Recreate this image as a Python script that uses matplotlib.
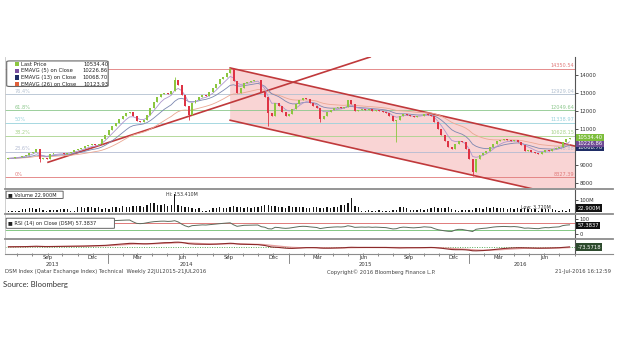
import matplotlib
matplotlib.use("Agg")
import matplotlib.pyplot as plt
import matplotlib.dates as mdates
import matplotlib.transforms as mtrans
from matplotlib.lines import Line2D
from matplotlib.patches import Polygon, FancyBboxPatch, Rectangle
import numpy as np
import pandas as pd

plt.rcParams['font.family'] = 'DejaVu Sans'

# weekly closes of the DSM index, mid Jun 2013 - 21 Jul 2016
closes = [9380, 9420, 9450, 9480, 9520, 9580, 9650, 9760, 9900, 9330,
          9420, 9350, 9620, 9700, 9650, 9680, 9620, 9700, 9760, 9820,
          9880, 9950, 10050, 10100, 10150, 10100, 10200, 10450, 10700, 10950,
          11150, 11350, 11550, 11750, 11900, 11950, 11700, 11450, 11400, 11500,
          11800, 12150, 12500, 12750, 12950, 13000, 12950, 13100, 13700, 13450,
          12900, 12300, 11800, 12450, 12600, 12800, 12900, 12850, 13050, 13250,
          13500, 13750, 13900, 14100, 14300, 13650, 13000, 13300, 13560, 13620,
          13650, 13700, 13730, 13070, 12800, 11900, 11700, 12450, 12300, 11950,
          11750, 11850, 12100, 12400, 12600, 12700, 12650, 12450, 12300, 12150,
          11550, 11750, 11950, 12050, 12150, 12200, 12150, 12250, 12600, 12400,
          12000, 12050, 12100, 12050, 12100, 12000, 12050, 12000, 11950, 11900,
          11700, 11450, 11500, 11750, 11850, 11800, 11700, 11650, 11700, 11750,
          11850, 11800, 11750, 11400, 11000, 10700, 10350, 10000, 9900, 10200,
          10350, 10300, 9900, 9350, 8650, 9350, 9550, 9700, 9800, 10000,
          10200, 10330, 10400, 10450, 10400, 10350, 10400, 10300, 10100, 9800,
          9850, 9750, 9650, 9600, 9750, 9850, 9800, 9900, 9950, 10000,
          10300, 10450, 10534.40]
# weekly volume, millions
volumes = [6, 5, 7, 6, 18, 20, 28, 30, 25, 32,
           10, 8, 12, 9, 10, 24, 26, 22, 8, 7,
           35, 38, 30, 40, 36, 32, 38, 22, 28, 25,
           35, 42, 30, 45, 38, 40, 48, 45, 50, 42,
           55, 70, 75, 60, 55, 68, 50, 58, 153.41, 55,
           48, 42, 35, 30, 25, 28, 8, 6, 10, 28,
           30, 35, 32, 30, 38, 45, 35, 40, 30, 38,
           32, 40, 36, 50, 60, 55, 48, 45, 35, 40,
           30, 45, 38, 42, 35, 40, 32, 30, 35, 40,
           28, 32, 38, 30, 35, 36, 55, 60, 70, 120,
           45, 35, 8, 6, 10, 7, 5, 9, 8, 6,
           7, 10, 12, 35, 40, 30, 12, 15, 10, 18,
           14, 25, 30, 35, 28, 32, 30, 36, 25, 10,
           8, 12, 9, 15, 11, 28, 30, 25, 35, 30,
           38, 32, 28, 30, 26, 34, 20, 28, 22, 30,
           18, 24, 26, 3.72, 20, 25, 22, 18, 15, 8,
           10, 6, 22.9]
wick_low = {9: 9165, 52: 11530, 75: 11150, 90: 11400, 112: 10300, 134: 8390}
wick_high = {48: 13890, 64: 14370}

fib_levels = [8327.39, 9748.88, 10628.15, 11338.97, 12049.64, 12929.04, 14350.54]
fib_pcts = ['0%', '23.6%', '38.2%', '50%', '61.8%', '76.4%', '']
fib_colors = ['#e07a7a', '#b3bbd2', '#a8d38c', '#98d2dc', '#8cc78c', '#b2c0d0', '#e07a7a']

channel_dates = ['2014-09-05', '2016-08-02']
channel_upper = [14385, 10060]
channel_lower = [11490, 7160]
trend_dates = ['2013-09-02', '2015-06-15']
trend_prices = [9165, 14990]

legend_rows = [('Last Price', '10534.40', '#8cc63f'),
               ('EMAVG (5) on Close', '10226.86', '#7b4fa0'),
               ('EMAVG (13) on Close', '10068.70', '#1f2d66'),
               ('EMAVG (26) on Close', '10123.93', '#e0603a')]

n = len(closes)
assert len(volumes) == n
dates = pd.date_range('2013-06-14', periods=n, freq='7D')
x = mdates.date2num(dates)
c = np.array(closes, dtype=float)
s = pd.Series(c)

W, H = 620, 355
fig = plt.figure(figsize=(W / 100, H / 100), dpi=100)


def add_ax(x0, y0, x1, y1):
    return fig.add_axes([x0 / W, 1 - y1 / H, (x1 - x0) / W, (y1 - y0) / H])


ax = add_ax(5, 57, 575, 188)
axv = add_ax(5, 190, 575, 213)
axr = add_ax(5, 215, 575, 238)
axm = add_ax(5, 240, 575, 253)
xlim = mdates.date2num(pd.to_datetime(['2013-06-07', '2016-08-02']))
GREY = '#333333'
for a in (ax, axv, axr, axm):
    a.set_xlim(*xlim)
    a.set_xticks([])
    a.yaxis.tick_right()
    a.tick_params(axis='y', direction='out', length=2, width=0.6, labelsize=3.8,
                  pad=1.5, colors=GREY)
    for sp in ('top', 'bottom'):
        a.spines[sp].set_visible(False)
    a.spines['left'].set_color('#c8c8c8')
    a.spines['left'].set_linewidth(0.6)
    a.spines['right'].set_color('#555555')
    a.spines['right'].set_linewidth(0.8)

# ---- price panel
ax.set_ylim(7740, 14990)
ax.set_yticks([8000, 9000, 11000, 12000, 13000, 14000])

cd = mdates.date2num(pd.to_datetime(channel_dates))
ax.add_patch(Polygon([(cd[0], channel_upper[0]), (cd[1], channel_upper[1]),
                      (cd[1], channel_lower[1]), (cd[0], channel_lower[0])],
                     closed=True, fc='#f9d4d4', ec='none', zorder=0))
ax.plot(cd, channel_upper, color='#c0393b', lw=1.2, zorder=3)
ax.plot(cd, channel_lower, color='#c0393b', lw=1.2, zorder=3)
ax.plot(mdates.date2num(pd.to_datetime(trend_dates)), trend_prices,
        color='#c0393b', lw=1.2, zorder=3)

for lvl, pct, col in zip(fib_levels, fib_pcts, fib_colors):
    ax.axhline(lvl, color=col, lw=0.6, zorder=1)
    ax.text(0.9985, lvl + 30, f'{lvl:.2f}', transform=ax.get_yaxis_transform(),
            ha='right', va='bottom', fontsize=3.6, color=col, zorder=2)
    if pct:
        ax.text(0.0175, lvl + 30, pct, transform=ax.get_yaxis_transform(),
                ha='left', va='bottom', fontsize=3.6, color=col, zorder=2)

for span, col in ((26, '#eaa792'), (13, '#7c87b0'), (5, '#ad96cc')):
    ax.plot(x, s.ewm(span=span, adjust=False).mean(), color=col, lw=0.6, zorder=4)

o = np.r_[c[0] - 40, c[:-1]]
up = c >= o
lo = np.minimum(o, c)
hi = np.maximum(o, c)
wl = np.array([wick_low.get(i, lo[i]) for i in range(n)])
wh = np.array([wick_high.get(i, hi[i]) for i in range(n)])
cols = np.where(up, '#8cc63f', '#de3344')
ax.vlines(x, wl, wh, colors=cols, lw=0.6, zorder=5)
ax.bar(x, np.maximum(hi - lo, 30), bottom=lo, width=4.0, color=cols, lw=0, zorder=5)

# legend box
ax.add_patch(FancyBboxPatch((0.003, 0.775), 0.178, 0.195, transform=ax.transAxes,
                            boxstyle='round,pad=0,rounding_size=0.006',
                            fc='white', ec='#666666', lw=0.8, zorder=8))
for k, (lab, val, col) in enumerate(legend_rows):
    yy = 0.945 - k * 0.051
    ax.add_patch(Rectangle((0.017, yy - 0.016), 0.007, 0.032, transform=ax.transAxes,
                           fc=col, ec='none', zorder=9))
    ax.text(0.028, yy, lab, transform=ax.transAxes, fontsize=3.8, va='center',
            color='#222222', zorder=9)
    ax.text(0.181, yy, val, transform=ax.transAxes, fontsize=3.8, va='center',
            ha='right', color='#222222', zorder=9)

ytr = mtrans.blended_transform_factory(ax.transAxes, ax.transData)
for val, txt, fc in ((10000, '10068.70', '#1f2d66'), (10226.86, '10226.86', '#6f4a94'),
                     (10534.40, '10534.40', '#7cbd3a')):
    ax.text(1.004, val, txt, transform=ytr, fontsize=3.8, va='center', ha='left',
            color='white', clip_on=False, zorder=10,
            bbox=dict(boxstyle='square,pad=0.25', fc=fc, ec='none'))

# ---- volume panel
axv.set_ylim(-13, 187)
axv.set_yticks([100])
axv.set_yticklabels(['100M'])
axv.bar(x, volumes, width=2.8, color='#151515', lw=0)
ihi = int(np.argmax(volumes))
axv.text(x[ihi] - 17, 145, 'Hi: 153.410M', fontsize=3.4, va='center', color=GREY)
ilo = int(np.argmin(volumes))
axv.text(x[ilo] - 35, 35, 'Low: 3.720M', fontsize=3.4, va='center', color=GREY)
axv.add_patch(FancyBboxPatch((0.002, 0.63), 0.1, 0.32, transform=axv.transAxes,
                             boxstyle='round,pad=0,rounding_size=0.006',
                             fc='white', ec='#666666', lw=0.7, zorder=8))
axv.text(0.006, 0.79, '■ Volume 22.900M', transform=axv.transAxes, fontsize=3.6,
         va='center', color='#222222', zorder=9)
axv.text(1.004, 22.9 + 5, '22.900M', transform=axv.get_yaxis_transform(), fontsize=3.8,
         va='center', color='white', clip_on=False,
         bbox=dict(boxstyle='square,pad=0.25', fc='#111111', ec='none'))

# ---- RSI panel
d = s.diff()
gain = d.clip(lower=0).ewm(alpha=1 / 14, adjust=False).mean()
loss = (-d.clip(upper=0)).ewm(alpha=1 / 14, adjust=False).mean()
rsi = 100 - 100 / (1 + gain / loss)
axr.set_ylim(-25, 125)
axr.set_yticks([0, 100])
axr.axhline(70, color='#e07a7a', lw=0.7)
axr.axhline(30, color='#84c884', lw=0.7)
axr.plot(x[1:], rsi[1:], color='#5d6b5d', lw=0.7)
axr.add_patch(FancyBboxPatch((0.002, 0.42), 0.19, 0.44, transform=axr.transAxes,
                             boxstyle='round,pad=0,rounding_size=0.006',
                             fc='white', ec='#666666', lw=0.7, zorder=8))
axr.text(0.006, 0.64, '■ RSI (14) on Close (DSM) 57.3837', transform=axr.transAxes,
         fontsize=3.6, va='center', color='#222222', zorder=9)
axr.text(1.004, 57.38, '57.3837', transform=axr.get_yaxis_transform(), fontsize=3.8,
         va='center', color='white', clip_on=False,
         bbox=dict(boxstyle='square,pad=0.25', fc='#111111', ec='none'))

# ---- MACD panel
macd = s.ewm(span=12, adjust=False).mean() - s.ewm(span=26, adjust=False).mean()
sig = macd.ewm(span=9, adjust=False).mean()
lo_m, hi_m = macd.min(), macd.max()
pad = (hi_m - lo_m) * 0.25
axm.set_ylim(lo_m - pad, hi_m + pad)
axm.set_yticks([])
axm.axhline(0, color='#5aaa5a', lw=0.7, ls=(0, (1, 1.5)))
axm.plot(x, sig, color='#e5a0a0', lw=0.9)
axm.plot(x, macd, color='#8b2a2a', lw=0.8)
axm.text(1.004, 0.45, '-73.5718', transform=axm.transAxes, fontsize=3.8,
         va='center', color='white', clip_on=False,
         bbox=dict(boxstyle='square,pad=0.25', fc='#2d4a2d', ec='none'))

# date axis
months = pd.date_range('2013-07-01', '2016-08-01', freq='MS')
axm.set_xticks(mdates.date2num(months))
axm.set_xticklabels([])
axm.tick_params(axis='x', direction='out', length=1.8, width=0.5, colors='#555555')
xtr = axm.get_xaxis_transform()
for m in months:
    if m.month in (3, 6, 9, 12):
        axm.text(mdates.date2num(m), -0.32, m.strftime('%b'), transform=xtr,
                 ha='center', va='center', fontsize=3.8, color=GREY)
year_pos = ['2013-09-10', '2014-06-08', '2015-06-05', '2016-04-14']
for yp in year_pos:
    axm.text(mdates.date2num(pd.Timestamp(yp)), -0.85, yp[:4], transform=xtr,
             ha='center', va='center', fontsize=3.8, color=GREY)
for yr in ('2014-01-01', '2015-01-01', '2016-01-01'):
    xd = mdates.date2num(pd.Timestamp(yr))
    axm.plot([xd, xd], [-0.2, -0.75], transform=xtr, color='#777777', lw=0.6,
             clip_on=False)

# panel separators
for yy in (189, 214, 239, 253.5):
    fig.add_artist(Line2D([5 / W, 613 / W], [1 - yy / H, 1 - yy / H], color='#8c8c8c',
                          lw=1.3 if yy != 253.5 else 0.8))

fy = 1 - 272 / H
fig.text(5 / W, fy, 'DSM Index (Qatar Exchange Index) Technical  Weekly 22JUL2015-21JUL2016',
         fontsize=3.8, va='center', color='#444444')
fig.text(327 / W, fy, 'Copyright\u00a9 2016 Bloomberg Finance L.P.', fontsize=3.8,
         va='center', color='#444444')
fig.text(611 / W, fy, '21-Jul-2016 16:12:59', fontsize=3.8, va='center', ha='right',
         color='#444444')
fig.text(3 / W, 1 - 285 / H, 'Source: Bloomberg', fontsize=5.6, va='center',
         color='#333333', family='Lato')

fig.savefig('out.png', dpi=100)
